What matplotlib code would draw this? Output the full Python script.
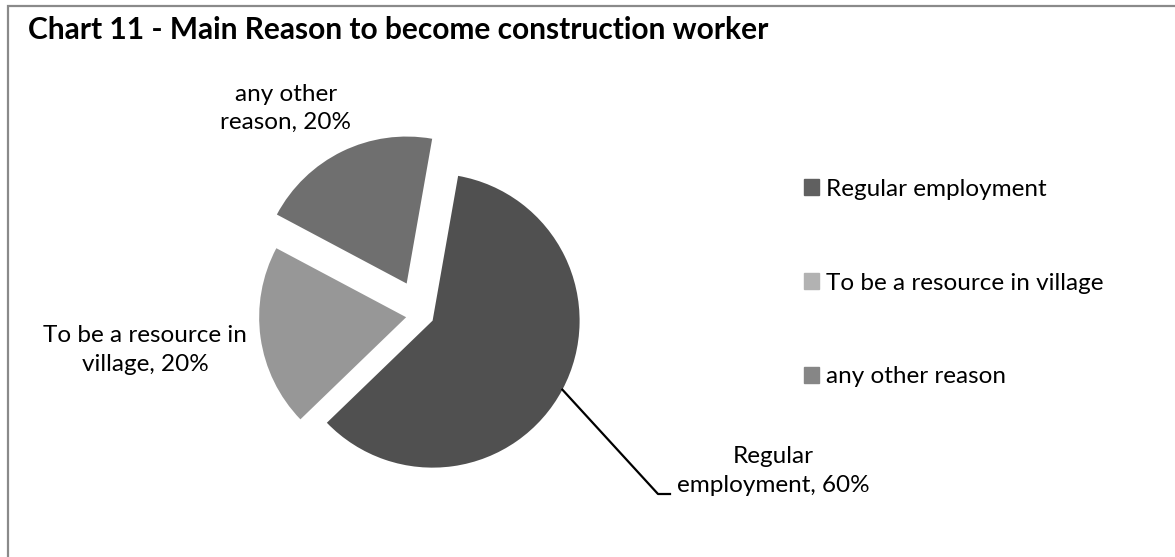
import matplotlib.pyplot as plt
import matplotlib.patches as mpatches
import numpy as np

# data
categories = ['Regular employment', 'To be a resource in village', 'any other reason']
shares = [60, 20, 20]
slice_labels = ['Regular\nemployment, 60%', 'To be a resource in\nvillage, 20%', 'any other\nreason, 20%']

# styling
pie_colors = ['#505050', '#979797', '#6f6f6f']
legend_colors = ['#606060', '#b2b2b2', '#868686']
explode = [12, 16, 35]          # pixels
W, H = 1175, 557

plt.rcParams['font.family'] = ['Lato', 'DejaVu Sans']

fig = plt.figure(figsize=(W / 100, H / 100), dpi=100)
ax = fig.add_axes([0, 0, 1, 1])

wedges, _ = ax.pie(shares, colors=pie_colors, explode=explode, startangle=80,
                   counterclock=False, radius=147, center=(422, H - 315),
                   wedgeprops=dict(linewidth=0))
ax.set_xlim(0, W)
ax.set_ylim(0, H)
ax.set_aspect('auto')
ax.axis('off')

# title
fig.text(28 / W, 1 - 30 / H, 'Chart 11 - Main Reason to become construction worker',
         fontsize=21.5, fontweight='bold', va='center', ha='left')

# outer border (chart area is cropped at the right and bottom)
fig.patches.append(mpatches.Rectangle((8 / W, -0.2), 1.2, 1.2 - 6 / H, transform=fig.transFigure,
                                      fill=False, edgecolor='#8a8a8a', linewidth=1.6))

# data labels
lab_fs = 17.5
ax.text(286, H - 108, slice_labels[2], ha='center', va='center', fontsize=lab_fs, linespacing=1.4)
ax.text(145, H - 350, slice_labels[1], ha='center', va='center', fontsize=lab_fs, linespacing=1.5)
ax.text(773, H - 471, slice_labels[0], ha='center', va='center', fontsize=lab_fs, linespacing=1.45)

# leader line for regular employment
w0 = wedges[0]
mid = np.deg2rad((w0.theta1 + w0.theta2) / 2)
sx = w0.center[0] + w0.r * np.cos(mid)
sy = w0.center[1] + w0.r * np.sin(mid)
ax.plot([sx, 658, 670], [sy, H - 494, H - 494], color='black', linewidth=1.6)

# legend
handles = [mpatches.Patch(color=c) for c in legend_colors]
ax.legend(handles, categories, loc='center left', bbox_to_anchor=(804, H - 283),
          bbox_transform=ax.transData, frameon=False, fontsize=lab_fs,
          handlelength=0.62, handleheight=0.62, handletextpad=0.3,
          labelspacing=3.0, borderpad=0, borderaxespad=0)

fig.savefig('out.png', dpi=100)
